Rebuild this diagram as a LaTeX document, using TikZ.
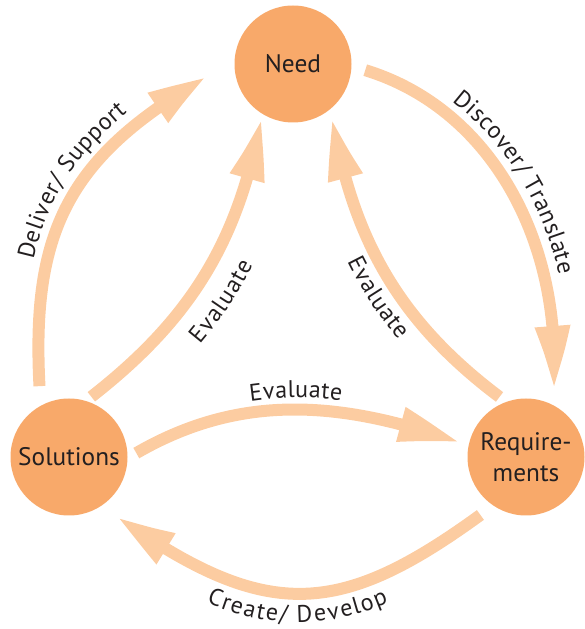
\documentclass[tikz,border=0pt]{standalone}
\usepackage{fontspec}
\setmainfont{PT Sans}
\usetikzlibrary{arrows.meta, bending, decorations.text}
\definecolor{stagecol}{RGB}{248,169,106}
\definecolor{flowcol}{RGB}{252,204,161}
\definecolor{txtcol}{RGB}{35,31,32}
\newcommand{\stagefont}{\fontsize{19}{23}\selectfont}
\newcommand{\lblfont}{\fontsize{18}{21}\selectfont}

\begin{document}
\begin{tikzpicture}[
  x=0.75pt, y=0.75pt,
  stage/.style = {circle, fill=stagecol, minimum size=87.75pt, inner sep=0pt,
                  align=center, font=\stagefont, text=txtcol},
  flow/.style  = {draw=flowcol, line width=9pt,
                  -{Triangle[length=49pt,width=24pt,bend]}},
  lbl/.style n args = {3}{decorate, decoration={text along path,
                  text align={align=center, #2}, raise=#1,
                  text color=txtcol, text={|\lblfont|#3}}},
]
\useasboundingbox (0,0) rectangle (585,629);

% ---------- the three stages ----------
\node[stage] (need) at (293,565) {Need};
\node[stage] (sol)  at (69,172)  {Solutions};
\node[stage] (req)  at (526,172) {Require-\\ments};

% ---------- outer cycle ----------
\draw[flow, shorten <=14.6pt, shorten >=23.4pt]
  (sol.119) to[out=93, in=208, looseness=1.2] (need.178);
\draw[flow, shorten <=10.6pt, shorten >=10.8pt]
  (need.358) to[out=-17, in=84] (req.64);
\draw[flow, shorten <=11.8pt, shorten >=13.4pt]
  (req.236) to[out=216, in=-36, looseness=1.3] (sol.304);

% ---------- inner evaluation arrows ----------
\draw[flow, shorten <=4.9pt, shorten >=2.8pt]
  (sol.73) to[out=38, in=260] (need.238);
\draw[flow, shorten <=6pt, shorten >=6.3pt]
  (req.110) to[out=143, in=279] (need.310);
\draw[flow, shorten <=7.4pt, shorten >=6pt]
  (sol.-1) to[out=30, in=160] (req.169);

% ---------- labels along the arrows ----------
\path[lbl={11pt}{left indent=20pt}{Deliver/ Support}]
  (sol.119) to[out=93, in=208, looseness=1.2] (need.178);
\path[lbl={11pt}{right indent=18pt}{Discover/ Translate}]
  (need.358) to[out=-17, in=84] (req.64);
\path[lbl={-22pt}{left indent=0pt}{Create/ Develop}]
  (sol.304) to[out=-36, in=216, looseness=1.3] (req.236);
\path[lbl={-28pt}{right indent=18pt}{Evaluate}]
  (sol.73) to[out=38, in=260] (need.238);
\path[lbl={-21pt}{left indent=22pt}{Evaluate}]
  (need.310) to[out=279, in=143] (req.110);
\path[lbl={9pt}{left indent=0pt}{Evaluate}]
  (sol.-1) to[out=30, in=160] (req.169);

\end{tikzpicture}
\end{document}
